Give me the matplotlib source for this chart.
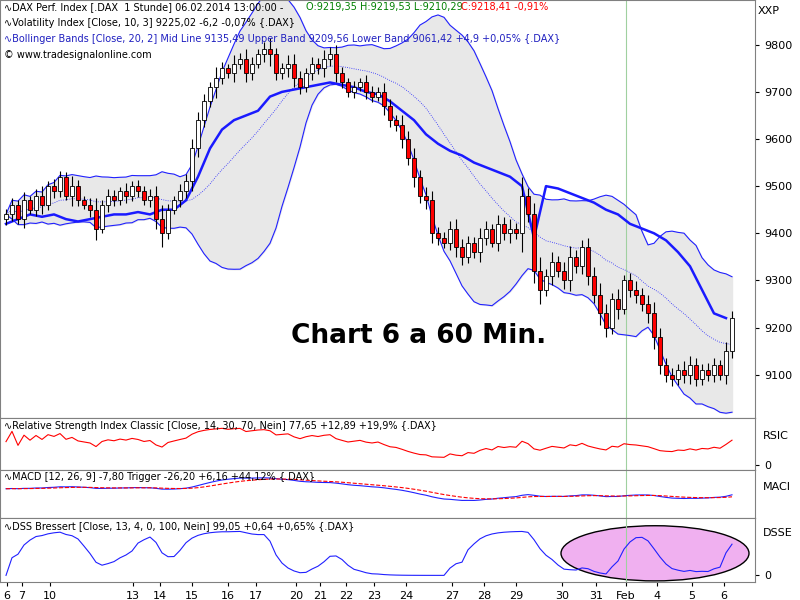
import matplotlib
matplotlib.use("Agg")
import matplotlib.pyplot as plt
import numpy as np
from matplotlib.patches import Ellipse, Rectangle

closes = [9440,9460,9430,9470,9450,9480,9460,9500,9490,9520,9480,9500,9470,9460,9450,9410,
9460,9480,9470,9490,9480,9500,9490,9470,9480,9430,9400,9450,9470,9490,9510,9580,9640,9680,
9710,9730,9750,9740,9760,9770,9740,9760,9780,9790,9780,9740,9750,9760,9730,9710,9740,9760,
9750,9770,9780,9740,9720,9700,9710,9720,9700,9690,9700,9670,9640,9630,9600,9560,9520,9480,
9470,9400,9390,9380,9410,9370,9350,9380,9360,9390,9410,9380,9420,9400,9410,9400,9480,9440,
9320,9280,9310,9340,9320,9300,9350,9330,9370,9310,9270,9230,9200,9260,9240,9300,9280,9270,
9250,9230,9180,9120,9100,9090,9110,9100,9120,9090,9110,9100,9120,9100,9150,9220]
opens = [9430] + closes[:-1]
wick = [12,15,10,18,9,14,20,11,16,13,10,22,12,9,15,25,10,14,12,9,16,11,13,10,15,20,30,12,9,14,
16,20,18,15,12,22,14,10,18,12,20,15,10,16,25,14,12,18,20,15,10,14,12,18,16,20,12,10,14,9,
15,12,10,18,14,12,20,16,22,15,18,20,14,12,16,20,18,14,12,22,15,10,18,14,20,12,40,16,25,30,
14,20,12,18,22,14,16,20,18,25,20,14,22,12,16,18,14,20,25,18,16,14,12,18,20,15,12,14,16,12,20,15]
vol_idx = list(range(0,121,2))
vol_vals = [9420,9430,9440,9435,9440,9430,9425,9430,9435,9440,9440,9445,9440,9450,9450,9470,
9520,9580,9620,9640,9650,9660,9690,9700,9705,9710,9715,9720,9715,9710,9700,9695,9680,9660,
9640,9610,9590,9575,9565,9550,9540,9530,9520,9500,9390,9500,9495,9485,9475,9465,9450,9440,
9420,9410,9400,9385,9360,9330,9280,9230,9220]
day_labels = ['6','7','10','13','14','15','16','17','20','21','22','23','24','27','28','29','30','31','Feb','4','5','6']
day_px = [7,22,50,133,160,192,228,256,296,320,346,374,406,452,484,516,562,596,626,657,692,724]

c = np.array(closes, float); o = np.array(opens, float); w = np.array(wick, float)
N = len(c); x = np.arange(N)
s = 6.0
win = 20
mid = np.array([c[max(0,i-win+1):i+1].mean() for i in range(N)])
sd = np.array([c[max(0,i-win+1):i+1].std() for i in range(N)])
up, lo = mid+2*sd, mid-2*sd
d = np.diff(c, prepend=c[0]); g = np.clip(d,0,None); l = np.clip(-d,0,None)
ag = np.zeros(N); al = np.zeros(N); ag[0]=1; al[0]=1
for i in range(1,N):
    ag[i]=(ag[i-1]*13+g[i])/14; al[i]=(al[i-1]*13+l[i])/14
rsi = 100-100/(1+ag/np.maximum(al,1e-9))
def ema(a,n):
    r=np.zeros(len(a)); r[0]=a[0]; k=2/(n+1)
    for i in range(1,len(a)): r[i]=a[i]*k+r[i-1]*(1-k)
    return r
macd = ema(c,12)-ema(c,26); trig = ema(macd,9)
hh = np.array([c[max(0,i-12):i+1].max() for i in range(N)]); ll = np.array([c[max(0,i-12):i+1].min() for i in range(N)])
st = ema(100*(c-ll)/np.maximum(hh-ll,1),4)
hh2 = np.array([st[max(0,i-12):i+1].max() for i in range(N)]); ll2 = np.array([st[max(0,i-12):i+1].min() for i in range(N)])
dss = ema(100*(st-ll2)/np.maximum(hh2-ll2,1),4)

fig = plt.figure(figsize=(8,6), dpi=100)
W = 755/800
xl = (-1, 755/s - 1)
def mk(top, bot):
    ax = fig.add_axes([0, 1-bot/600, W, (bot-top)/600])
    ax.set_xlim(xl); ax.yaxis.tick_right()
    ax.tick_params(labelsize=8, length=3)
    for sp in ax.spines.values(): sp.set_color('#808080')
    ax.set_xticks([p/s-1 for p in day_px]); ax.set_xticklabels([])
    ax.axvline(626/s-1, color='#a0d0a0', lw=0.8)
    return ax
ax = mk(0,418)
ax.set_ylim(9008,9895)
ax.set_yticks(range(9100,9801,100))
ax.fill_between(x, lo, up, color='#e8e8e8')
ax.plot(x, up, color='#2020ff', lw=0.8); ax.plot(x, lo, color='#2020ff', lw=0.8)
ax.plot(x, mid, color='#2020ff', lw=0.6, ls=':')
ax.plot(vol_idx, vol_vals, color='#1a1aff', lw=1.8)
for i in range(N):
    top_, bot_ = max(o[i],c[i]), min(o[i],c[i])
    ax.vlines(i, bot_-w[i], top_+w[i], color='black', lw=0.8)
    ax.add_patch(Rectangle((i-0.3, bot_), 0.6, max(top_-bot_,1.5), fc='red' if c[i]<o[i] else 'white', ec='black', lw=0.6, zorder=3))
ax.text(1.003, 0.985, 'XXP', transform=ax.transAxes, fontsize=8, va='top')
fs = 7
ax.text(0.005, 0.995, '∿DAX Perf. Index [.DAX  1 Stunde] 06.02.2014 13:00:00 - ', transform=ax.transAxes, fontsize=fs, va='top')
ax.text(0.405, 0.995, 'O:9219,35 H:9219,53 L:9210,29', color='green', transform=ax.transAxes, fontsize=fs, va='top')
ax.text(0.61, 0.995, 'C:9218,41 -0,91%', color='red', transform=ax.transAxes, fontsize=fs, va='top')
ax.text(0.005, 0.957, '∿Volatility Index [Close, 10, 3] 9225,02 -6,2 -0,07% {.DAX}', transform=ax.transAxes, fontsize=fs, va='top')
ax.text(0.005, 0.919, '∿Bollinger Bands [Close, 20, 2] Mid Line 9135,49 Upper Band 9209,56 Lower Band 9061,42 +4,9 +0,05% {.DAX}', transform=ax.transAxes, fontsize=fs, va='top', color='#2020c0')
ax.text(0.005, 0.881, '© www.tradesignalonline.com', transform=ax.transAxes, fontsize=fs, va='top')
ax.text(0.385, 0.18, 'Chart 6 a 60 Min.', transform=ax.transAxes, fontsize=19, fontweight='bold')

a2 = mk(418,470); a2.set_ylim(-10,100); a2.set_yticks([0]); a2.plot(x, rsi, color='red', lw=0.8)
a2.text(0.005,0.95,'∿Relative Strength Index Classic [Close, 14, 30, 70, Nein] 77,65 +12,89 +19,9% {.DAX}', transform=a2.transAxes, fontsize=fs, va='top')
a2.text(1.01,0.75,'RSIC',transform=a2.transAxes,fontsize=8,va='top')
a3 = mk(470,518); a3.set_yticks([]); a3.plot(x, macd, color='#2020ff', lw=0.8); a3.plot(x, trig, color='red', lw=0.8, ls='--')
m = max(abs(macd).max(),1); a3.set_ylim(-m*2.5, m*1.6)
a3.text(0.005,0.95,'∿MACD [12, 26, 9] -7,80 Trigger -26,20 +6,16 +44,12% {.DAX}', transform=a3.transAxes, fontsize=fs, va='top')
a3.text(1.01,0.75,'MACI',transform=a3.transAxes,fontsize=8,va='top')
a4 = mk(518,582); a4.set_ylim(-15,130); a4.set_yticks([0]); a4.plot(x, dss, color='#2020ff', lw=0.8)
a4.add_patch(Ellipse((655/s-1, 50), 188/s, 125, fc='#f0b0f0', ec='black', lw=1, zorder=0))
a4.text(0.005,0.95,'∿DSS Bressert [Close, 13, 4, 0, 100, Nein] 99,05 +0,64 +0,65% {.DAX}', transform=a4.transAxes, fontsize=fs, va='top')
a4.text(1.01,0.85,'DSSE',transform=a4.transAxes,fontsize=8,va='top')
a4.set_xticklabels(day_labels, fontsize=8)
fig.savefig('out.png', dpi=100)
